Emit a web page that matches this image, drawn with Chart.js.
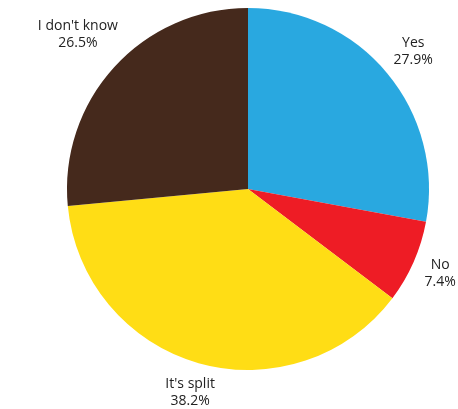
<!DOCTYPE html>
<html>
<head>
<meta charset="utf-8">
<style>
	body {
		margin: 0;
		background: #fff;
	}
</style>
</head>
<body>
<canvas id="pie" width="458" height="409"></canvas>
<script src="https://cdn.jsdelivr.net/npm/chart.js@4/dist/chart.umd.min.js"></script>
<script type="text/javascript">
	var labels = ['Yes', 'No', "It's split", "I don't know"];
	var values = [27.9, 7.4, 38.2, 26.5];
	var colors = ['#29a8e0', '#ee1c25', '#ffdd15', '#45291c'];

	// labels outside the slices, pushed out along the middle angle until the text box clears the pie
	var outerLabels = {
		id: 'outerLabels',
		afterDraw: function(chart) {
			var ctx = chart.ctx;
			var meta = chart.getDatasetMeta(0);
			ctx.save();
			ctx.font = '14px "Open Sans", sans-serif';
			ctx.fillStyle = '#222';
			ctx.textAlign = 'center';
			ctx.textBaseline = 'middle';
			meta.data.forEach(function(arc, i) {
				var p = arc.getProps(['x', 'y', 'startAngle', 'endAngle', 'outerRadius'], true);
				var mid = (p.startAngle + p.endAngle) / 2;
				var pct = values[i].toFixed(1) + '%';
				var hw = Math.max(ctx.measureText(labels[i]).width, ctx.measureText(pct).width) / 2;
				var hh = 17;
				var r = p.outerRadius + 10, x, y;
				for (; r < p.outerRadius + 120; r++) {
					x = p.x + Math.cos(mid) * r;
					y = p.y + Math.sin(mid) * r;
					var nx = Math.max(x - hw, Math.min(p.x, x + hw));
					var ny = Math.max(y - hh, Math.min(p.y, y + hh));
					if (Math.hypot(nx - p.x, ny - p.y) >= p.outerRadius + 8) break;
				}
				ctx.fillText(labels[i], x, y - 8.5);
				ctx.fillText(pct, x, y + 8.5);
			});
			ctx.restore();
		}
	};

	new Chart(document.getElementById('pie'), {
		type: 'pie',
		data: {
			labels: labels,
			datasets: [{
				data: values,
				backgroundColor: colors,
				borderWidth: 0
			}]
		},
		options: {
			responsive: false,
			animation: false,
			layout: {
				padding: { left: 67, right: 29, top: 8, bottom: 39 }
			},
			plugins: {
				legend: { display: false },
				tooltip: { enabled: false }
			}
		},
		plugins: [outerLabels]
	});
</script>
</body>
</html>
